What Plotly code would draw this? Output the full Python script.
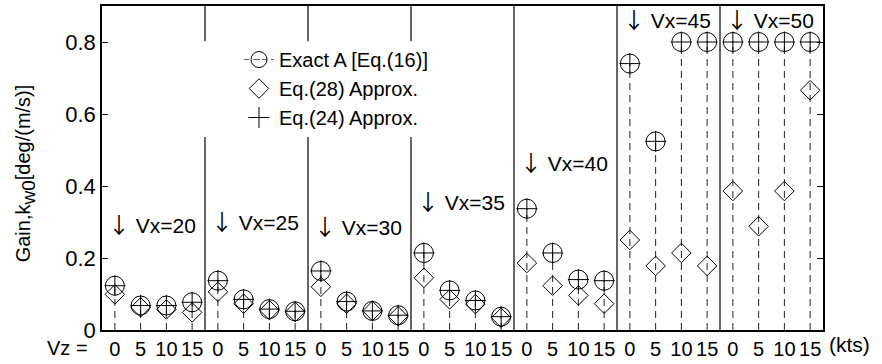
import plotly.graph_objects as go

# Gain k_w0 for each horizontal speed Vx (groups) and vertical speed Vz (kts)
vx_speeds = [20, 25, 30, 35, 40, 45, 50]
vz_speeds = [0, 5, 10, 15]

exact_gain = [
    [0.123, 0.068, 0.068, 0.077],
    [0.137, 0.085, 0.058, 0.052],
    [0.164, 0.079, 0.053, 0.041],
    [0.214, 0.110, 0.082, 0.037],
    [0.337, 0.214, 0.140, 0.137],
    [0.740, 0.524, 0.800, 0.800],
    [0.800, 0.800, 0.800, 0.800],
]
eq28_gain = [
    [0.099, 0.063, 0.057, 0.049],
    [0.106, 0.073, 0.055, 0.050],
    [0.120, 0.073, 0.053, 0.038],
    [0.145, 0.085, 0.072, 0.034],
    [0.186, 0.123, 0.096, 0.073],
    [0.250, 0.178, 0.214, 0.178],
    [0.386, 0.288, 0.386, 0.666],
]
eq24_gain = [
    [0.123, 0.068, 0.068, 0.077],
    [0.137, 0.085, 0.058, 0.052],
    [0.164, 0.079, 0.053, 0.041],
    [0.214, 0.110, 0.082, 0.037],
    [0.337, 0.214, 0.140, 0.137],
    [0.740, 0.524, 0.800, 0.800],
    [0.800, 0.800, 0.800, 0.800],
]
# vertical position of each "↓ Vx=.." group label
group_label_y = [0.298, 0.305, 0.292, 0.361, 0.470, 0.866, 0.866]

FONT = "Liberation Sans, Arial, Helvetica, sans-serif"
ARROW = '<span style="font-family:Noto Sans CJK JP;font-size:22px">↓</span>'
n_vz = len(vz_speeds)

xs, ex, e28, e24 = [], [], [], []
for g in range(len(vx_speeds)):
    for j in range(n_vz):
        xs.append(g * n_vz + j + 0.5)
        ex.append(exact_gain[g][j])
        e28.append(eq28_gain[g][j])
        e24.append(eq24_gain[g][j])

# dashed stems from zero up to the exact value
stem_x, stem_y = [], []
for x, v in zip(xs, ex):
    stem_x += [x, x, None]
    stem_y += [0, v, None]

# isolated points (separated by None) so the dashed line shows only in the legend
ex_x, ex_y = [], []
for x, v in zip(xs, ex):
    ex_x += [x, None]
    ex_y += [v, None]

fig = go.Figure()
fig.add_trace(go.Scatter(
    x=stem_x, y=stem_y, mode="lines", showlegend=False, hoverinfo="skip",
    line=dict(color="#222222", width=1, dash="7px,5px"),
))
fig.add_trace(go.Scatter(
    x=ex_x, y=ex_y, mode="lines+markers", name="Exact A [Eq.(16)]",
    line=dict(color="#666666", width=1, dash="5px,4px"),
    marker=dict(symbol="circle-open-dot", size=19, color="black",
                line=dict(color="black", width=1)),
))
fig.add_trace(go.Scatter(
    x=xs, y=e28, mode="markers", name="Eq.(28) Approx.",
    marker=dict(symbol="diamond-open", size=15, color="black",
                line=dict(color="black", width=1)),
))
fig.add_trace(go.Scatter(
    x=xs, y=e24, mode="markers", name="Eq.(24) Approx.",
    marker=dict(symbol="cross-thin-open", size=15, color="black",
                line=dict(color="black", width=1)),
))

n_groups = len(vx_speeds)
x_max = n_groups * n_vz

shapes = []
for g in range(1, n_groups):
    shapes.append(dict(type="line", xref="x", yref="y", x0=g * n_vz, x1=g * n_vz,
                       y0=0, y1=0.9, line=dict(color="black", width=1.2), layer="above"))
# blank backdrop behind the legend
shapes.append(dict(type="rect", xref="paper", yref="paper", x0=0.129, x1=0.49,
                   y0=0.596, y1=0.891, fillcolor="white", line=dict(width=0), layer="above"))

annotations = []
for g, (v, ly) in enumerate(zip(vx_speeds, group_label_y)):
    annotations.append(dict(x=g * n_vz + 0.15, y=ly, xref="x", yref="y",
                            text=f"{ARROW} Vx={v}", showarrow=False, xanchor="left",
                            yanchor="middle", font=dict(size=21, family=FONT, color="black")))
annotations.append(dict(x=-0.017, y=-0.056, xref="paper", yref="paper", text="Vz =",
                        showarrow=False, xanchor="right", yanchor="middle",
                        font=dict(size=20, family=FONT, color="black")))
annotations.append(dict(x=1.006, y=-0.046, xref="paper", yref="paper", text="(kts)",
                        showarrow=False, xanchor="left", yanchor="middle",
                        font=dict(size=21, family=FONT, color="black")))
annotations.append(dict(x=-0.107, y=0.483, xref="paper", yref="paper",
                        text='Gain,k<sub><span style="font-size:19px">w0</span></sub>[deg/(m/s)]',
                        textangle=-90,
                        showarrow=False, xanchor="center", yanchor="middle",
                        font=dict(size=20, family=FONT, color="black")))

fig.update_layout(
    width=882, height=364,
    margin=dict(l=102, r=59, t=4, b=31),
    paper_bgcolor="white", plot_bgcolor="white",
    font=dict(family=FONT, size=20, color="black"),
    shapes=shapes, annotations=annotations,
    legend=dict(x=0.19, y=0.895, xanchor="left", yanchor="top",
                bgcolor="rgba(0,0,0,0)", borderwidth=0,
                font=dict(size=20, family=FONT, color="black"),
                tracegroupgap=0),
    xaxis=dict(range=[0, x_max], tickmode="array", tickvals=xs,
               ticktext=[str(v) for _ in vx_speeds for v in vz_speeds],
               showgrid=False, zeroline=False, showline=True, linecolor="black",
               linewidth=1.5, mirror=True, ticks="", ticklen=0,
               tickfont=dict(size=20, family=FONT, color="black")),
    yaxis=dict(range=[0, 0.9], tickmode="array", tickvals=[0, 0.2, 0.4, 0.6, 0.8],
               ticktext=["0", "0.2", "0.4", "0.6", "0.8"],
               showgrid=False, zeroline=False, showline=True, linecolor="black",
               linewidth=1.5, mirror="ticks", ticks="inside", ticklen=6,
               tickcolor="black", tickfont=dict(size=22, family=FONT, color="black")),
)

fig.write_html("out.html")
